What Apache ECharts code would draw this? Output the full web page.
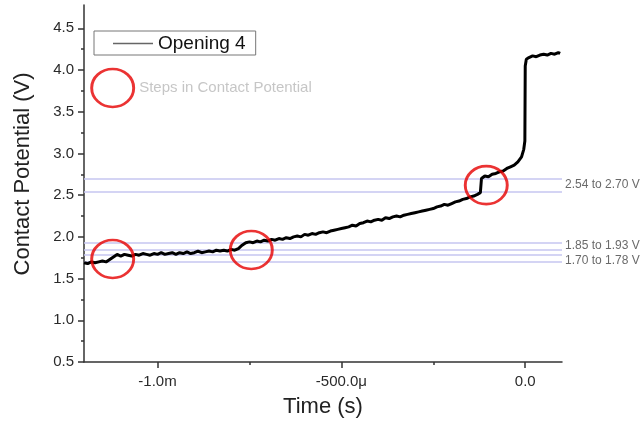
<!DOCTYPE html>
<html>
<head>
<meta charset="utf-8">
<script src="https://cdn.jsdelivr.net/npm/echarts@6/dist/echarts.min.js"></script>
<style>html,body{margin:0;padding:0;background:#fff;}#c{width:643px;height:425px;}</style>
</head>
<body>
<div id="c"></div>
<script>
// ---- data (time in microseconds, potential in volts) ----
const timeUs = [
  -1200,-1190,-1180,-1170,-1160,-1150,-1140,-1130,-1120,-1110,
  -1100,-1090,-1080,-1070,-1060,-1050,-1040,-1030,-1020,-1010,
  -1000,-990,-980,-970,-960,-950,-940,-930,-920,-910,
  -900,-890,-880,-870,-860,-850,-840,-830,-820,-810,
  -800,-790,-780,-770,-760,-750,-740,-730,-720,-710,
  -700,-690,-680,-670,-660,-650,-640,-630,-620,-610,
  -600,-590,-580,-570,-560,-550,-540,-530,-520,-510,
  -500,-490,-480,-470,-460,-450,-440,-430,-420,-410,
  -400,-390,-380,-370,-360,-350,-340,-330,-320,-310,
  -300,-290,-280,-270,-260,-250,-240,-230,-220,-210,
  -200,-190,-180,-170,-160,-150,-140,-130,
  -122,-119,
  -110,-100,-90,-80,-70,-60,-50,-40,-30,-20,-10,
  -4,-1,
  0,3,
  10,20,30,40,50,60,70,80,90,
  95
];
const potential = [
  1.69,1.68,1.70,1.69,1.70,1.71,1.70,1.73,1.76,1.79,
  1.77,1.79,1.78,1.77,1.79,1.78,1.80,1.79,1.78,1.80,
  1.79,1.81,1.79,1.80,1.81,1.79,1.81,1.80,1.82,1.80,
  1.81,1.83,1.81,1.82,1.83,1.82,1.84,1.83,1.84,1.83,
  1.85,1.84,1.86,1.90,1.93,1.94,1.93,1.95,1.94,1.96,
  1.95,1.97,1.96,1.98,1.97,1.99,1.98,2.00,2.01,2.00,
  2.03,2.02,2.04,2.03,2.05,2.06,2.05,2.07,2.08,2.09,
  2.10,2.11,2.12,2.14,2.13,2.16,2.17,2.19,2.18,2.20,
  2.21,2.20,2.23,2.22,2.24,2.25,2.24,2.26,2.27,2.28,
  2.29,2.30,2.31,2.32,2.33,2.34,2.36,2.37,2.39,2.38,
  2.40,2.42,2.43,2.45,2.46,2.48,2.49,2.51,
  2.53,2.70,
  2.73,2.72,2.75,2.76,2.78,2.79,2.82,2.84,2.86,2.90,2.96,
  3.05,3.15,
  4.05,4.13,
  4.15,4.17,4.16,4.18,4.19,4.18,4.20,4.19,4.21,
  4.20
];
const seriesName = 'Opening 4';

const bandLow = [2.54, 1.85, 1.70];
const bandHigh = [2.70, 1.93, 1.78];
const bandLabels = ['2.54 to 2.70 V', '1.85 to 1.93 V', '1.70 to 1.78 V'];

const circleTimeUs = [-1122, -1122, -745, -106];
const circleV = [3.785, 1.735, 1.843, 2.62];
const annotationText = 'Steps in Contact Potential';

const xTicks = [-1000, -500, 0];
const xMinorTicks = [-750, -250];
const yTicks = [0.5, 1.0, 1.5, 2.0, 2.5, 3.0, 3.5, 4.0, 4.5];
const yMinorTicks = [0.75, 1.25, 1.75, 2.25, 2.75, 3.25, 3.75, 4.25];

const X_MIN = -1200, X_MAX = 100, Y_MIN = 0.5, Y_MAX = 4.78;

// ---- chart ----
const FONT = 'Liberation Sans, Arial, sans-serif';
const AX = '#333';
function fmtX(v) {
  if (v === 0) return '0.0';
  if (Math.abs(v) >= 1000) return (v / 1000).toFixed(1) + 'm';
  return v.toFixed(1) + 'μ';
}

const chart = echarts.init(document.getElementById('c'), null, {renderer: 'canvas'});
const lineData = timeUs.map((t, i) => [t, potential[i]]);
const bandValues = bandLow.concat(bandHigh);
const labelOffsets = [[0, 0], [0, 0], [0, 2]];

chart.setOption({
  animation: false,
  backgroundColor: '#fff',
  textStyle: {fontFamily: FONT},
  grid: {left: 84, right: 81, top: 5, bottom: 63},
  legend: {
    data: [{name: seriesName, icon: 'rect', itemStyle: {color: '#666', borderWidth: 0}}],
    left: 94, top: 31,
    padding: [3, 10, 2, 19],
    itemWidth: 40, itemHeight: 1.5, itemGap: 5,
    borderColor: '#777', borderWidth: 1, borderRadius: 0,
    textStyle: {fontSize: 19, color: '#111', fontFamily: FONT},
    selectedMode: false
  },
  xAxis: [{
    type: 'value', min: X_MIN, max: X_MAX, position: 'bottom',
    name: 'Time (s)', nameLocation: 'middle', nameGap: 34,
    nameTextStyle: {fontSize: 22, color: '#222', fontFamily: FONT},
    axisLine: {show: true, onZero: false, lineStyle: {color: AX, width: 1.5}},
    axisTick: {show: true, customValues: xTicks, length: 6, lineStyle: {color: AX, width: 1.5}},
    axisLabel: {show: true, customValues: xTicks, formatter: fmtX, fontSize: 15, color: '#2a2a2a', margin: 12},
    splitLine: {show: false}
  }, {
    type: 'value', min: X_MIN, max: X_MAX, position: 'bottom',
    axisLine: {show: false, onZero: false},
    axisTick: {show: true, customValues: xMinorTicks, length: 3, lineStyle: {color: AX, width: 1.5}},
    axisLabel: {show: false},
    splitLine: {show: false}
  }],
  yAxis: [{
    type: 'value', min: Y_MIN, max: Y_MAX, position: 'left',
    name: 'Contact Potential (V)', nameLocation: 'middle', nameGap: 50,
    nameTextStyle: {fontSize: 22, color: '#222', fontFamily: FONT, padding: [0, 0, 0, 19]},
    axisLine: {show: true, onZero: false, lineStyle: {color: AX, width: 1.5}},
    axisTick: {show: true, customValues: yTicks, length: 6, lineStyle: {color: AX, width: 1.5}},
    axisLabel: {show: true, customValues: yTicks, formatter: v => v.toFixed(1), fontSize: 15, color: '#2a2a2a', margin: 10},
    splitLine: {show: false}
  }, {
    type: 'value', min: Y_MIN, max: Y_MAX, position: 'left',
    axisLine: {show: false, onZero: false},
    axisTick: {show: true, customValues: yMinorTicks, length: 3, lineStyle: {color: AX, width: 1.5}},
    axisLabel: {show: false},
    splitLine: {show: false}
  }],
  series: [{
    name: seriesName,
    type: 'line',
    xAxisIndex: 0, yAxisIndex: 0,
    data: lineData,
    showSymbol: false,
    symbol: 'none',
    lineStyle: {color: '#000', width: 3},
    itemStyle: {color: '#000'},
    z: 3,
    markLine: {
      silent: true,
      symbol: ['none', 'none'],
      label: {show: false},
      lineStyle: {color: '#c6c6f0', width: 1.5, type: 'solid'},
      data: bandValues.map(v => ({yAxis: v})),
      z: 1
    }
  }, {
    name: 'bandText',
    type: 'scatter',
    xAxisIndex: 0, yAxisIndex: 0,
    symbolSize: 0,
    silent: true,
    data: bandLabels.map((s, i) => ({
      value: [X_MAX, (bandLow[i] + bandHigh[i]) / 2],
      label: {show: true, position: 'right', distance: 3, formatter: s, offset: labelOffsets[i],
              fontSize: 12, color: '#444', fontFamily: FONT}
    })),
    z: 4
  }, {
    name: 'circles',
    type: 'scatter',
    xAxisIndex: 0, yAxisIndex: 0,
    symbol: 'circle',
    symbolSize: [42, 38],
    silent: true,
    itemStyle: {color: 'rgba(0,0,0,0)', borderColor: '#e60000', borderWidth: 2.8},
    data: circleTimeUs.map((t, i) => {
      const d = {value: [t, circleV[i]]};
      if (i === 0) {
        d.label = {show: true, position: 'right', distance: 4, formatter: annotationText,
                   fontSize: 15, color: '#b8b8b8', fontFamily: FONT};
      }
      return d;
    }),
    z: 5
  }]
});
</script>
</body>
</html>
